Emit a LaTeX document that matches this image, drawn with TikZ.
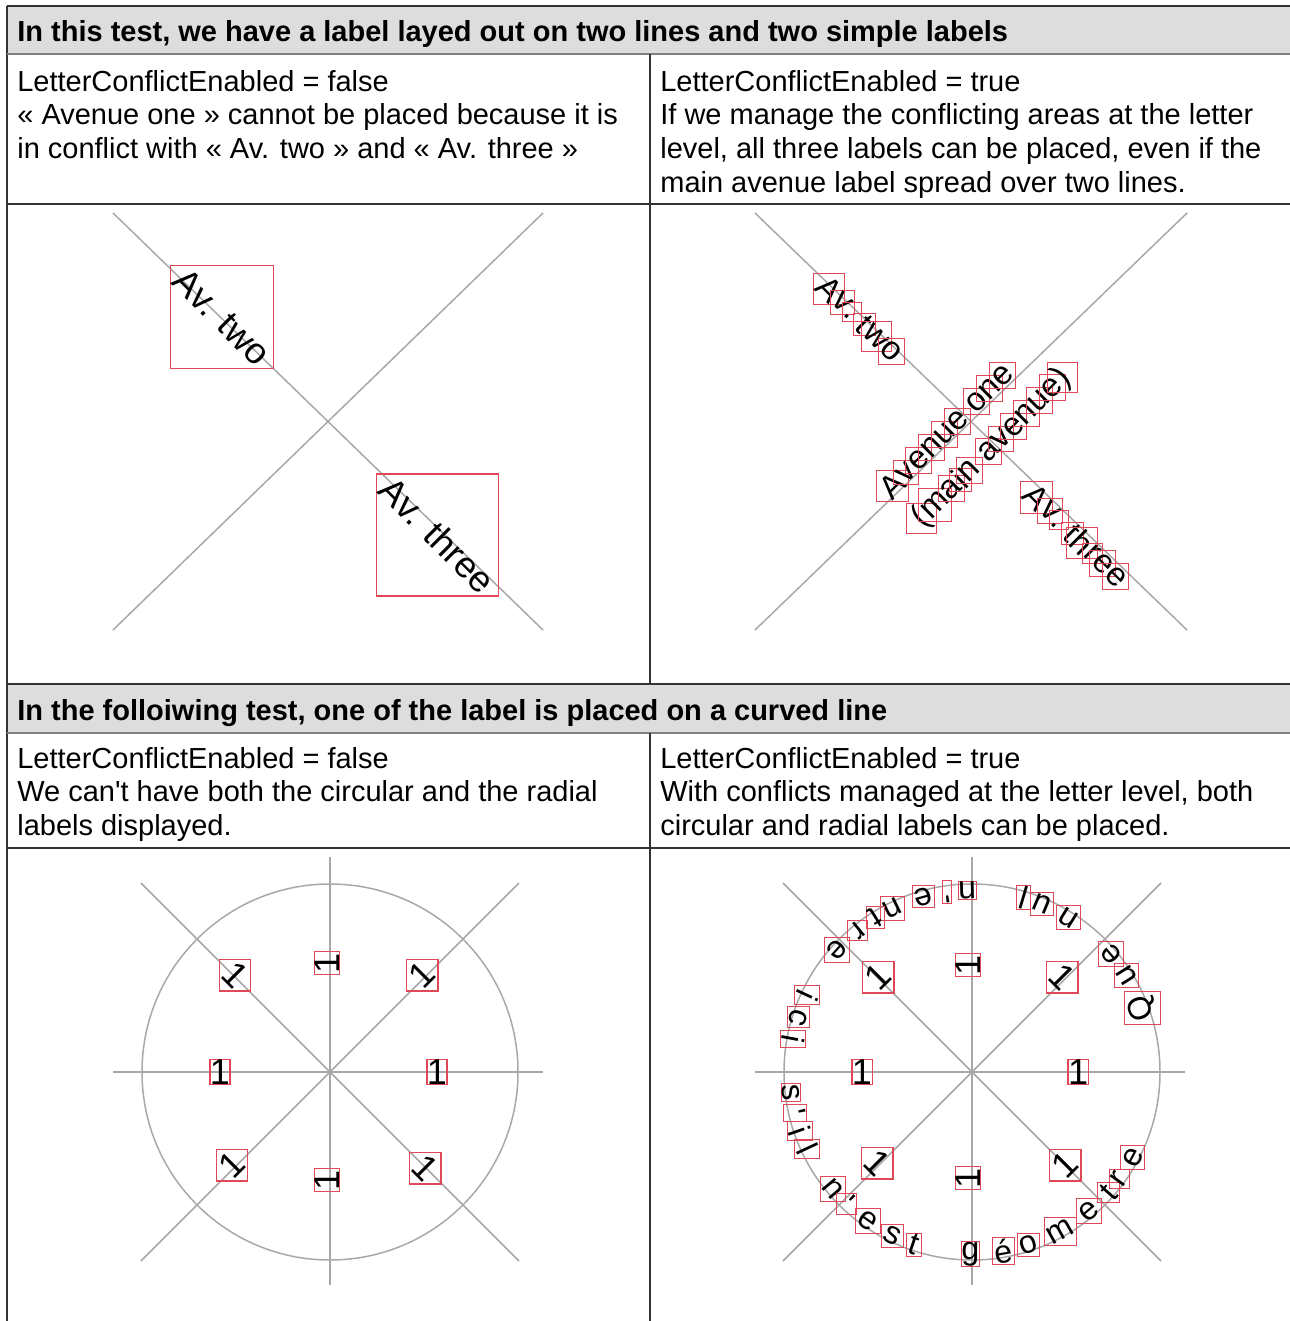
\documentclass[tikz,border=0pt]{standalone}
\usepackage{fontspec}
\setmainfont{Liberation Sans}
\newfontfamily\plainsans{Liberation Sans}
\usetikzlibrary{positioning}

\definecolor{hdrgray}{HTML}{DDDDDD}
\definecolor{rulegray}{HTML}{808080}
\definecolor{framegray}{HTML}{333333}
\definecolor{streetgray}{HTML}{A8A8A8}
\definecolor{boxred}{HTML}{E04858}

\newcommand{\bodyfont}{\plainsans\fontsize{16.5}{19.17}\selectfont}
\newcommand{\avfont}{\plainsans\fontsize{20.8}{24}\selectfont}
\newcommand{\letterfont}{\plainsans\fontsize{18.8}{22}\selectfont}
\newcommand{\ringfont}{\plainsans\fontsize{18.3}{22}\selectfont}
\newcommand{\onefont}{\plainsans\fontsize{20.5}{24}\selectfont}
% boite englobante (invisible) d'un glyphe tourne
\newcommand{\rotspace}[2]{\phantom{\rotatebox[origin=c]{#1}{\vphantom{o}#2}}}

\begin{document}
\begin{tikzpicture}[x=0.02cm, y=-0.02cm,
    frame/.style={draw=framegray, line width=0.7pt},
    hdrrule/.style={draw=rulegray, line width=1.1pt},
    hdr/.style={anchor=north west, inner sep=0pt, font=\bodyfont\bfseries},
    txt/.style={anchor=north west, inner sep=0pt, align=left, font=\bodyfont},
    street/.style={draw=streetgray, line width=0.85pt},
    glyph/.style={inner sep=0pt},
    bigbox/.style={draw=boxred, line width=0.9pt, inner sep=0pt, font=\avfont},
    letterbox/.style={draw=boxred, line width=0.55pt, inner sep=0pt, font=\letterfont},
    ringbox/.style={draw=boxred, line width=0.55pt, inner sep=0pt, font=\ringfont},
    onebox/.style={draw=boxred, line width=0.6pt, inner sep=0pt, font=\onefont}]

\useasboundingbox (0,0) rectangle (1290,1321);

% Tableau : fonds gris des en-tetes
\fill[hdrgray] (7,6) rectangle (1290,54);
\fill[hdrgray] (7,684) rectangle (1290,733);

% Tableau : filets
\draw[frame] (7,6) -- (1290,6);
\draw[frame] (7,6) -- (7,1321);
\draw[hdrrule] (7,54) -- (1290,54);
\draw[frame] (7,204) -- (1290,204);
\draw[frame] (7,684) -- (1290,684);
\draw[hdrrule] (7,733) -- (1290,733);
\draw[frame] (7,848) -- (1290,848);
\draw[frame] (650,54) -- (650,684);
\draw[frame] (650,733) -- (650,1321);

% Textes du premier test
\node[hdr] (head1) at (17,19.7) {In this test, we have a label layed out on two lines and two simple labels};
\node[txt] (left1) at (17,69.7) {LetterConflictEnabled = false\\« Avenue one » cannot be placed because it is\\in conflict with « Av. two » and « Av. three »};
\node[txt] (right1) at (660,69.7) {LetterConflictEnabled = true\\If we manage the conflicting areas at the letter\\level, all three labels can be placed, even if the\\main avenue label spread over two lines.};

% Textes du second test
\node[hdr] (head2) at (17,698.7) {In the folloiwing test, one of the label is placed on a curved line};
\node[txt] (left2) at (17,746.7) {LetterConflictEnabled = false\\We can't have both the circular and the radial\\labels displayed.};
\node[txt] (right2) at (660,746.7) {LetterConflictEnabled = true\\With conflicts managed at the letter level, both\\circular and radial labels can be placed.};

% Panneau 1 : deux avenues, etiquettes entieres
\draw[street] (113,213) -- (543,630);
\draw[street] (113,630) -- (543,213);
\node[bigbox] (avtwo) at (222,317) {\rotspace{-45}{Av. two}};
\node[glyph, font=\avfont, rotate=-45] (avtwo-t) at (avtwo.center) {\vphantom{o}Av. two};
\node[bigbox] (avthree) at (437.5,535) {\rotspace{-45}{Av. three}};
\node[glyph, font=\avfont, rotate=-45] (avthree-t) at (avthree.center) {\vphantom{o}Av. three};

% Panneau 2 : conflits geres lettre par lettre
\draw[street] (755,213) -- (1187,630);
\draw[street] (755,630) -- (1187,213);
\foreach \ch/\c [count=\i] in {A/0.3335, v/0.917, ./1.306, t/1.862, w/2.362, o/3.001} {
  \node[letterbox] (two-\i) at ({821.2+23.33*\c},{281.2+23.33*\c}) {\rotspace{-45}{\ch}};
  \node[glyph, font=\letterfont, rotate=-45] (two-\i-t) at (two-\i.center) {\vphantom{o}\ch};
}
\foreach \ch/\c [count=\i] in {A/0.3335, v/0.917, ./1.306, t/1.862, h/2.279, r/2.7235, e/3.168, e/3.724} {
  \node[letterbox] (three-\i) at ({1028.8+23.33*\c},{489.8+23.33*\c}) {\rotspace{-45}{\ch}};
  \node[glyph, font=\letterfont, rotate=-45] (three-\i-t) at (three-\i.center) {\vphantom{o}\ch};
}
\foreach \ch/\c [count=\i] in {A/0.3335, v/0.917, e/1.445, n/2.001, u/2.557, e/3.113, o/3.947, n/4.503, e/5.059} {
  \node[letterbox] (one-\i) at ({884.7+23.33*\c},{493.8-23.33*\c}) {\rotspace{45}{\ch}};
  \node[glyph, font=\letterfont, rotate=45] (one-\i-t) at (one-\i.center) {\vphantom{o}\ch};
}
\foreach \ch/\c [count=\i] in {{(}/0.1665, m/0.7495, a/1.444, i/1.833, n/2.222, a/3.056, v/3.584, e/4.112, n/4.668, u/5.224, e/5.78, {)}/6.2245} {
  \node[letterbox] (main-\i) at ({917.4+23.33*\c},{522.5-23.33*\c}) {\rotspace{45}{\ch}};
  \node[glyph, font=\letterfont, rotate=45] (main-\i-t) at (main-\i.center) {\vphantom{o}\ch};
}

% Panneau 3 : cercle et rayons, sans gestion par lettre
\draw[street] (113,1072) -- (543,1072);
\draw[street] (330,857) -- (330,1285);
\draw[street] (141,883) -- (519,1261);
\draw[street] (141,1261) -- (519,883);
\draw[street] (330,1072) circle [radius=188];
\foreach \dx/\dy/\r [count=\i] in {-95/-97/-45, -3/-109/90, 92/-97/45, -110/0/0, 107/0/0, -98/93/45, -3/108/90, 95/96/-45} {
  \node[onebox] (rayA-\i) at ({330+\dx},{1072+\dy}) {\rotspace{\r}{1}};
  \node[glyph, font=\onefont, rotate=\r] (rayA-\i-t) at (rayA-\i.center) {\vphantom{o}1};
}

% Panneau 4 : cercle, rayons et texte circulaire
\draw[street] (755,1072) -- (1185,1072);
\draw[street] (972,857) -- (972,1285);
\draw[street] (783,883) -- (1161,1261);
\draw[street] (783,1261) -- (1161,883);
\draw[street] (972,1072) circle [radius=188];
\foreach \dx/\dy/\r [count=\i] in {-94/-95/45, -4/-107/90, 90/-95/-45, -110/0/0, 106/0/0, -95/91/-45, -4/106/90, 93/93/45} {
  \node[onebox] (rayB-\i) at ({972+\dx},{1072+\dy}) {\rotspace{\r}{1}};
  \node[glyph, font=\onefont, rotate=\r] (rayB-\i-t) at (rayB-\i.center) {\vphantom{o}1};
}
\foreach \a/\ch [count=\i, evaluate=\a as \rr using \a+90] in {20.6/Q, 32/u, 40.3/e, 58/n, 67.3/u, 73.5/l, 91.5/n, 98/', 105.5/e, 116/n, 122/t, 129/r, 138/e, 155/i, 162.5/c, 169.5/i, 186.5/s, 193/', 199/i, 205/l, 220/n, 226.5/', 235/e, 244/s, 251.5/t, 269.5/g, 280/é, 288/o, 299/m, 310/e, 318.5/t, 324/r, 332/e} {
  \node[ringbox] (ring-\i) at ({972+182*cos(\a)},{1072-182*sin(\a)}) {\rotspace{\rr}{\ch}};
  \node[glyph, font=\ringfont, rotate=\rr] (ring-\i-t) at (ring-\i.center) {\vphantom{o}\ch};
}

\end{tikzpicture}
\end{document}
